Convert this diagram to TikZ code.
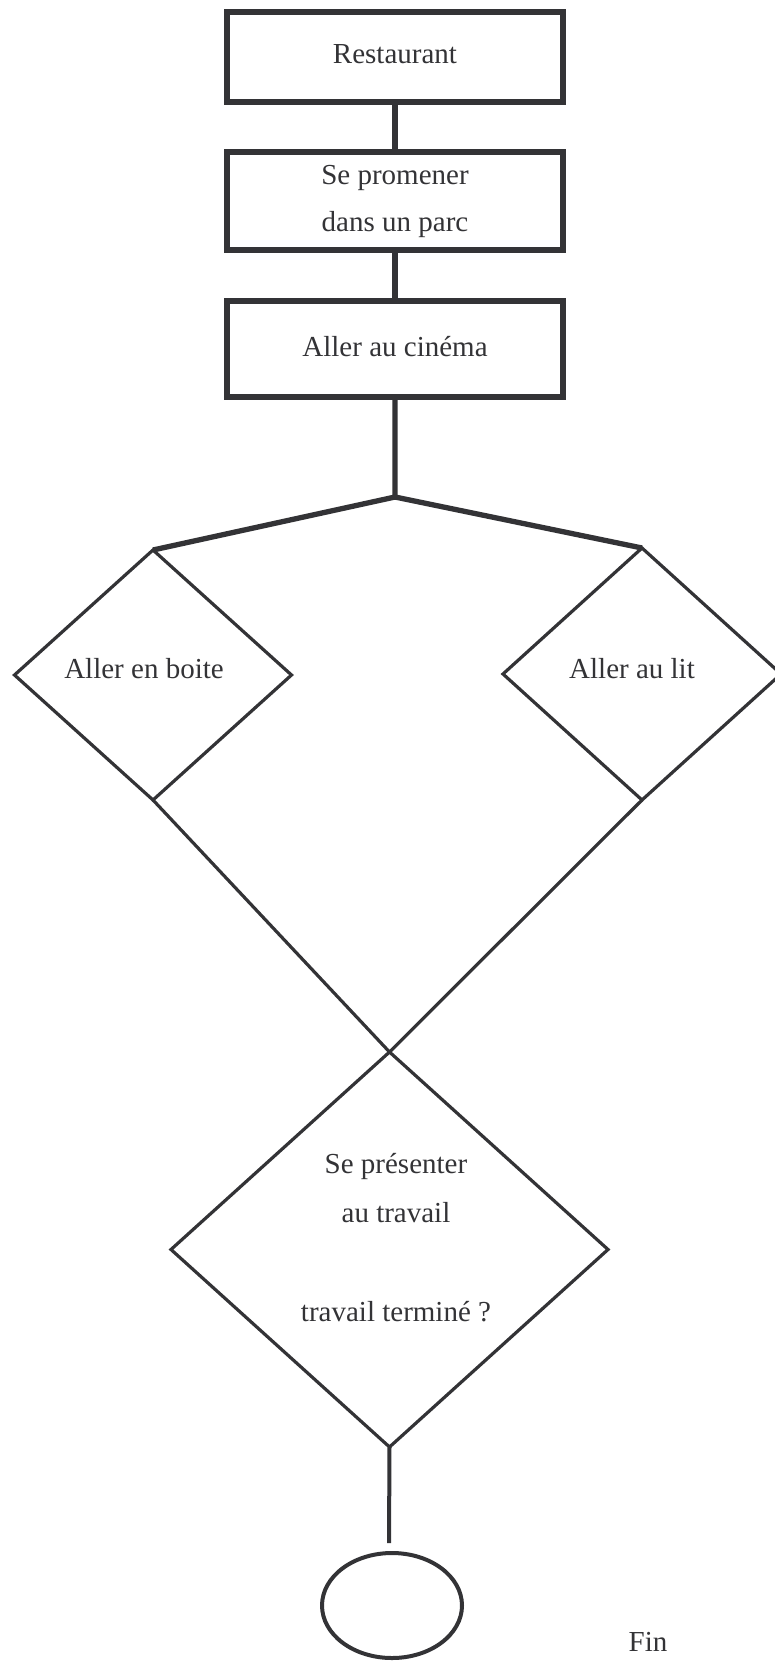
\documentclass[tikz,border=0pt]{standalone}
\usepackage{fontspec}
\setmainfont{Liberation Serif}
\usetikzlibrary{shapes.geometric}
\definecolor{ink}{HTML}{333336}
\begin{document}
\begin{tikzpicture}[x=1pt,y=-1pt,
  every node/.style={text=ink},
  box/.style={draw=ink, line width=5.3pt, rectangle, minimum width=336pt, inner sep=0pt, outer sep=0pt,
    font=\fontsize{29}{47}\selectfont, align=center},
  onebox/.style={box, text height=20pt, text depth=6pt},
  dia/.style={draw=ink, line width=3.2pt, diamond, inner sep=0pt, outer sep=0pt},
  txt/.style={font=\fontsize{29}{49.5}\selectfont, inner sep=0pt, align=center},
  thick conn/.style={draw=ink, line width=5.3pt},
  thin conn/.style={draw=ink, line width=3.2pt},
  end conn/.style={draw=ink, line width=4pt}
]
\useasboundingbox (0,0) rectangle (774,1661);
% boxes
\node[onebox, minimum height=90pt] (b1) at (395,57) {Restaurant};
\node[box, minimum height=98pt] (b2) at (395,201) {Se promener\\dans un parc};
\node[onebox, minimum height=96pt] (b3) at (395,349) {Aller au cin\'ema};
% diamonds
\node[dia, minimum width=277pt, minimum height=250pt] (ld) at (153,675) {};
\node[dia, minimum width=278pt, minimum height=252pt] (rd) at (642,674) {};
\node[txt, anchor=base] (ldt) at (144,678) {Aller en boite};
\node[txt, anchor=base] (rdt) at (632,678) {Aller au lit};
\node[dia, minimum width=437pt, minimum height=395pt] (bd) at (389.5,1249.5) {};
\node[txt] (bdt) at (396,1237.5) {Se pr\'esenter\\au travail\\[49.5pt]travail termin\'e ?};
% end
\node[draw=ink, line width=4pt, ellipse, minimum width=140pt, minimum height=105pt, inner sep=0pt, outer sep=0pt] (fin) at (392,1605.5) {};
\node[txt, anchor=base] (fint) at (648,1651) {Fin};
\coordinate (j) at (395,497);
\coordinate (fe) at (389,1543);
% connectors
\draw[thick conn] (b1.south) -- (b2.north);
\draw[thick conn] (b2.south) -- (b3.north);
\draw[thick conn, line join=round] (b3.south) -- (j) -- (ld.north);
\draw[thick conn] (j) -- (rd.north);
\draw[thin conn] (ld.south) -- (bd.north);
\draw[thin conn] (rd.south) -- (bd.north);
\draw[end conn] (bd.south) -- (fe);
\end{tikzpicture}
\end{document}
